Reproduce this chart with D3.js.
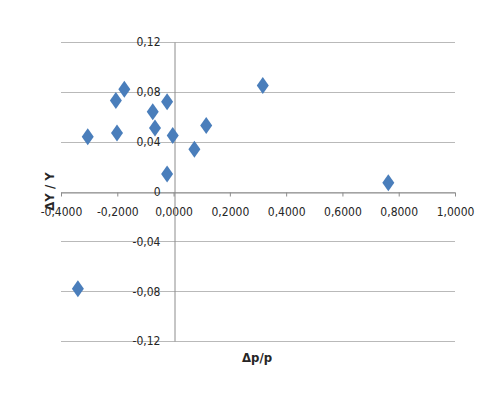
<!DOCTYPE html>
<html>
<head>
<meta charset="utf-8">
<script src="https://cdn.jsdelivr.net/npm/d3@7"></script>
<style>
  body { margin: 0; background: #fff; }
  svg text { font-family: "DejaVu Sans Condensed", "DejaVu Sans", sans-serif; font-stretch: condensed; fill: #262626; }
</style>
</head>
<body>
<div id="chart"></div>
<script>
// values (dp/p, dY/Y)
var priceChange = [-0.305, -0.205, -0.201, -0.175, -0.074, -0.066, -0.023, -0.023, -0.003, 0.074, 0.116, 0.317, 0.763, -0.340];
var outputChange = [0.044, 0.073, 0.047, 0.082, 0.064, 0.051, 0.072, 0.014, 0.045, 0.034, 0.053, 0.085, 0.007, -0.078];
var xTicks = [-0.4, -0.2, 0, 0.2, 0.4, 0.6, 0.8, 1.0];
var yTicks = [-0.12, -0.08, -0.04, 0, 0.04, 0.08, 0.12];

var points = priceChange.map(function (d, i) { return {x: d, y: outputChange[i]}; });

var width = 496, height = 416;
var plot = {left: 61, right: 455, top: 42, bottom: 341};

var svg = d3.select("#chart").append("svg")
    .attr("width", width)
    .attr("height", height);

var xScale = d3.scaleLinear().domain([-0.4, 1.0]).range([plot.left, plot.right]);
var yScale = d3.scaleLinear().domain([-0.12, 0.12]).range([plot.bottom, plot.top]);

// comma decimal and plain hyphen, like the original
function commaFmt(f) {
    return function (d) {
        if (d === 0 && f === ".2f") return "0";
        return d3.format(f)(d).replace(".", ",").replace("\u2212", "-");
    };
}

// horizontal gridlines
svg.append("g").selectAll("line")
    .data(yTicks)
    .enter().append("line")
    .attr("x1", plot.left)
    .attr("x2", plot.right)
    .attr("y1", function (d) { return Math.round(yScale(d)) + 0.5; })
    .attr("y2", function (d) { return Math.round(yScale(d)) + 0.5; })
    .attr("stroke", "#b9b9b9")
    .attr("stroke-width", 1);

// x axis through y = 0
var xAxis = svg.append("g")
    .attr("transform", "translate(0," + (Math.round(yScale(0)) + 0.5) + ")")
    .call(d3.axisBottom(xScale).tickValues(xTicks).tickSize(4).tickSizeOuter(0).tickPadding(11)
        .tickFormat(commaFmt(".4f")));

// y axis through x = 0
var yAxis = svg.append("g")
    .attr("transform", "translate(" + (Math.round(xScale(0)) + 0.5) + ",0)")
    .call(d3.axisLeft(yScale).tickValues(yTicks).tickSize(0).tickPadding(14)
        .tickFormat(commaFmt(".2f")));

svg.selectAll(".domain, .tick line").attr("stroke", "#8c8c8c");
svg.selectAll(".tick text").style("font-size", "12px").attr("fill", "#262626");

// diamond markers
var diamond = "M0,-8.5L6,0L0,8.5L-6,0Z";
svg.append("g").selectAll("path")
    .data(points)
    .enter().append("path")
    .attr("d", diamond)
    .attr("transform", function (d) { return "translate(" + xScale(d.x) + "," + yScale(d.y) + ")"; })
    .attr("fill", "#4a7ebb");

// axis titles
svg.append("text")
    .attr("x", 257)
    .attr("y", 362)
    .attr("text-anchor", "middle")
    .style("font-size", "13px")
    .style("font-weight", "bold")
    .text("Δp/p");

svg.append("text")
    .attr("transform", "translate(54," + ((plot.top + plot.bottom) / 2) + ") rotate(-90)")
    .attr("text-anchor", "middle")
    .style("font-size", "13px")
    .style("font-weight", "bold")
    .text("ΔY / Y");
</script>
</body>
</html>
